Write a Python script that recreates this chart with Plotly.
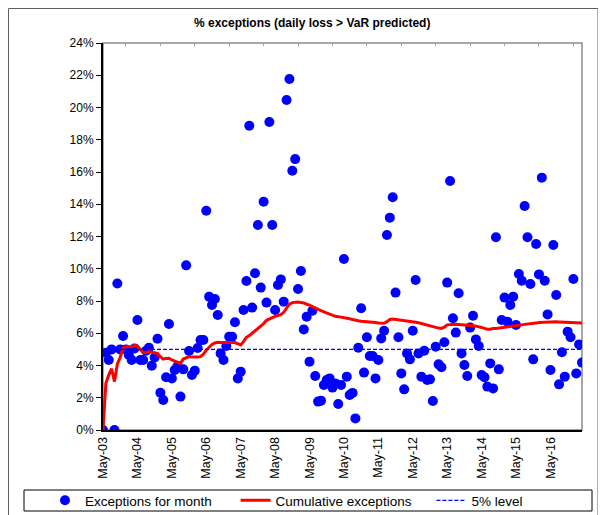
import plotly.graph_objects as go
import pandas as pd

# ---------------- data ----------------
months = [d.strftime("%b-%y") for d in pd.date_range("2003-05-01", periods=168, freq="MS")]

exceptions_pct = [
    0.0, 4.79, 4.34, 5.0, 0.0, 9.09, 5.0, 5.83, 5.0, 4.65,
    4.34, 5.06, 6.82, 4.34, 4.34, 4.92, 5.1, 3.99, 4.5, 5.66,
    2.31, 1.86, 3.27, 6.57, 3.2, 3.72, 3.97, 2.07, 3.76, 10.21,
    4.9, 3.41, 3.68, 5.08, 5.58, 5.58, 13.6, 8.27, 7.75, 8.12,
    7.13, 4.75, 4.34, 5.21, 5.79, 5.79, 6.68, 3.2, 3.62, 7.44,
    9.24, 18.87, 7.59, 9.72, 12.71, 8.83, 14.16, 7.9, 19.1, 12.71,
    7.44, 8.99, 9.34, 7.96, 20.47, 21.77, 16.08, 16.8, 8.74, 9.86,
    6.24, 7.03, 4.24, 7.4, 3.35, 1.76, 1.82, 2.79, 3.1, 3.2,
    2.63, 2.89, 1.61, 2.79, 10.6, 3.31, 2.17, 2.3, 0.72, 5.1,
    7.55, 3.56, 5.75, 4.59, 4.59, 3.2, 4.34, 5.68, 6.16, 12.09,
    13.17, 14.43, 8.52, 5.75, 3.51, 2.52, 4.75, 4.38, 6.16, 9.3,
    4.75, 3.31, 4.92, 3.1, 3.14, 1.8, 5.17, 4.07, 3.89, 5.44,
    9.14, 15.44, 6.93, 6.04, 8.48, 4.75, 4.03, 3.35, 6.35, 7.09,
    5.62, 5.21, 3.41, 3.27, 2.69, 4.13, 2.58, 11.95, 3.76, 6.82,
    8.21, 6.72, 7.75, 8.27, 6.51, 9.67, 9.26, 13.89, 11.95, 9.05,
    4.38, 11.53, 9.65, 15.65, 9.26, 7.17, 3.72, 11.47, 8.37, 2.83,
    4.82, 3.31, 6.1, 5.75, 9.36, 3.51, 5.31, 4.18,
]

cumulative_pct = [
    0.0, 2.9, 3.4, 3.8, 3.0, 4.1, 4.5, 5.1, 5.17, 5.17,
    5.17, 5.25, 5.2, 5.0, 4.8, 4.8, 4.86, 4.82, 4.8, 4.75,
    4.55, 4.4, 4.44, 4.45, 4.34, 4.28, 4.22, 4.13, 4.4, 4.5,
    4.55, 4.52, 4.5, 4.52, 4.55, 4.7, 4.95, 5.15, 5.3, 5.4,
    5.44, 5.42, 5.42, 5.44, 5.44, 5.44, 5.42, 5.35, 5.27, 5.48,
    5.75, 5.85, 6.0, 6.1, 6.3, 6.45, 6.6, 6.8, 6.9, 6.98,
    7.05, 7.1, 7.15, 7.3, 7.55, 7.8, 7.9, 7.94, 7.94, 7.9,
    7.88, 7.8, 7.75, 7.65, 7.55, 7.45, 7.4, 7.32, 7.25, 7.2,
    7.1, 7.05, 7.03, 7.0, 6.99, 6.95, 6.9, 6.85, 6.8, 6.78,
    6.75, 6.74, 6.72, 6.7, 6.68, 6.66, 6.64, 6.62, 6.62, 6.72,
    6.85, 6.88, 6.86, 6.84, 6.8, 6.78, 6.76, 6.74, 6.72, 6.68,
    6.65, 6.6, 6.55, 6.5, 6.45, 6.4, 6.36, 6.32, 6.3, 6.38,
    6.52, 6.55, 6.55, 6.56, 6.55, 6.53, 6.51, 6.5, 6.48, 6.46,
    6.44, 6.41, 6.36, 6.3, 6.25, 6.25, 6.3, 6.3, 6.32, 6.35,
    6.37, 6.39, 6.41, 6.42, 6.45, 6.47, 6.52, 6.55, 6.56, 6.57,
    6.6, 6.63, 6.67, 6.68, 6.7, 6.71, 6.72, 6.72, 6.71, 6.7,
    6.69, 6.68, 6.67, 6.68, 6.67, 6.65, 6.64, 6.64,
]

level_pct = [5.0] * len(months)

tick_labels = ["May-03", "May-04", "May-05", "May-06", "May-07", "May-08", "May-09",
               "May-10", "May-11", "May-12", "May-13", "May-14", "May-15", "May-16"]
top_tick_months = [m for m in months if m.startswith("Jan")]
y_ticks = list(range(0, 25, 2))
y_tick_labels = [f"{v}%" for v in y_ticks]

# ---------------- figure ----------------
# The page places the figure 8px in from the top-left corner (default body margin),
# so the figure is sized to the remaining window area and positions below are page pixels.
OFF = 8
W, H = 606 - OFF, 515 - OFF
L, R, T, B = 103, 582, 43, 430          # plot area in page pixels
pw, ph = R - L, B - T


def px(x):
    return (x - L) / pw


def py(y):
    return (B - y) / ph


FONT = "Liberation Sans, Arial, sans-serif"
NB = "\u00a0"

fig = go.Figure()
fig.add_trace(go.Scatter(
    x=months, y=exceptions_pct, mode="markers", name="Exceptions for month" + NB * 5,
    marker=dict(color="#0000FF", size=10, line=dict(width=0)),
))
fig.add_trace(go.Scatter(
    x=months, y=cumulative_pct, mode="lines", name="Cumulative exceptions" + NB * 4,
    line=dict(color="#FF0000", width=3),
))
fig.add_trace(go.Scatter(
    x=months, y=level_pct, mode="lines", name="5% level",
    line=dict(color="#0000FF", width=1.3, dash="4px,2px"),
))
# invisible helper trace so the top axis (minor gray ticks on the top border) is drawn
fig.add_trace(go.Scatter(
    x=months, y=level_pct, xaxis="x2", mode="lines", line=dict(width=0, color="rgba(0,0,0,0)"),
    showlegend=False, hoverinfo="skip",
))

shapes = [
    # outer chart frame
    dict(type="rect", xref="paper", yref="paper", x0=px(8.5), x1=px(598), y0=py(530), y1=py(8.5),
         line=dict(color="#606060", width=1), layer="below"),
    # plot area border
    dict(type="rect", xref="paper", yref="paper", x0=0, x1=1, y0=0, y1=1,
         line=dict(color="#8a8a8a", width=1.5), layer="below"),
    # legend box
    dict(type="rect", xref="paper", yref="paper", x0=px(24), x1=px(592), y0=py(511), y1=py(490),
         line=dict(color="#000000", width=1)),
]

fig.update_layout(
    width=W, height=H,
    margin=dict(l=L - OFF, r=W - (R - OFF), t=T - OFF, b=H - (B - OFF), pad=0, autoexpand=False),
    paper_bgcolor="white", plot_bgcolor="white",
    font=dict(family=FONT, size=12, color="#000000"),
    showlegend=True,
    legend=dict(orientation="h", x=px(45), xanchor="left", y=py(500.5), yanchor="middle",
                font=dict(size=13.5, family=FONT), bgcolor="rgba(0,0,0,0)", borderwidth=0,
                itemclick=False),
    shapes=shapes,
    annotations=[dict(text="<b>% exceptions (daily loss > VaR predicted)</b>", xref="paper", yref="paper",
                      x=px(312), y=py(23), xanchor="center", yanchor="middle", showarrow=False,
                      font=dict(size=12, family=FONT))],
    xaxis=dict(type="category", range=[0, len(months) - 1], tickvals=tick_labels, ticktext=tick_labels,
               tickangle=-90, showgrid=False, zeroline=False, showline=True, linecolor="#000000",
               linewidth=2, ticks="", tickfont=dict(size=12.5, family=FONT), automargin=False),
    xaxis2=dict(type="category", overlaying="x", side="top", anchor="y", range=[0, len(months) - 1],
                tickvals=top_tick_months, showticklabels=False, ticks="inside", ticklen=3,
                tickcolor="#a0a0a0", tickwidth=1, showgrid=False, zeroline=False, showline=False,
                automargin=False),
    yaxis=dict(range=[0, 24], tickvals=y_ticks, ticktext=y_tick_labels, showgrid=False, zeroline=False,
               showline=True, linecolor="#000000", linewidth=2, ticks="outside", ticklen=5,
               tickcolor="#000000", tickwidth=1, tickfont=dict(size=12, family=FONT), automargin=False),
)

fig.write_html("out.html")
